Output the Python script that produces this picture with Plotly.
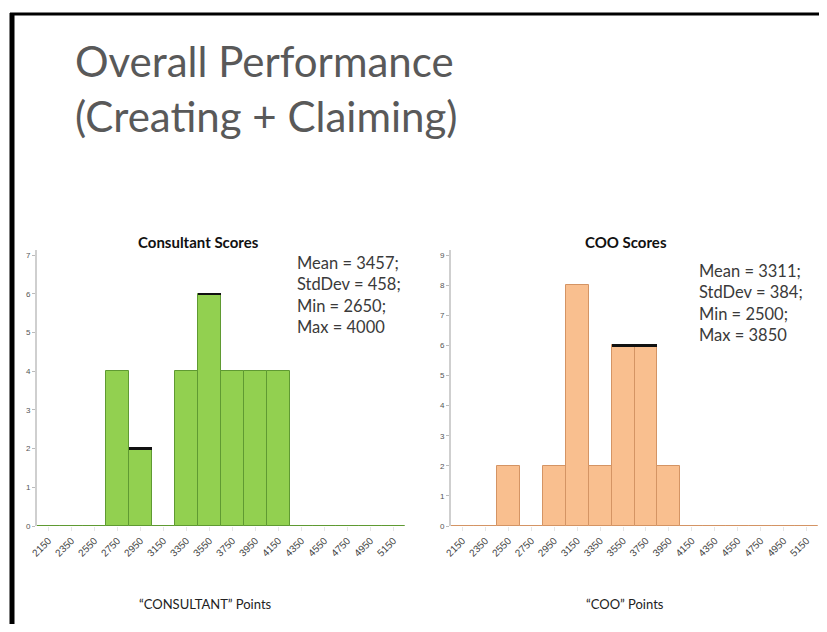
import plotly.graph_objects as go

bins = ["2150", "2350", "2550", "2750", "2950", "3150", "3350", "3550",
        "3750", "3950", "4150", "4350", "4550", "4750", "4950", "5150"]
consultant_counts = [0, 0, 0, 4, 2, 0, 4, 6, 4, 4, 4, 0, 0, 0, 0, 0]
coo_counts = [0, 0, 2, 0, 2, 8, 2, 6, 6, 2, 0, 0, 0, 0, 0, 0]
consultant_marked = ["2950", "3550"]
coo_marked = ["3550", "3750"]
consultant_stats = ["Mean = 3457;", "StdDev = 458;", "Min = 2650;", "Max = 4000"]
coo_stats = ["Mean = 3311;", "StdDev = 384;", "Min = 2500;", "Max = 3850"]

# page body has an 8px margin, so the figure is 16px smaller than the window
OFF = 8
W, H = 827 - 2 * OFF, 632 - 2 * OFF
def px(x):
    return min(max((x - OFF) / W, 0), 1)
def py(y):
    return min(max((H - (y - OFF)) / H, 0), 1)

fig = go.Figure()
fig.add_trace(go.Bar(x=bins, y=consultant_counts, xaxis="x", yaxis="y",
                     marker=dict(color="#92d050", line=dict(color="#5f9a32", width=1)),
                     showlegend=False, hoverinfo="skip"))
fig.add_trace(go.Bar(x=bins, y=coo_counts, xaxis="x2", yaxis="y2",
                     marker=dict(color="#f9bf8f", line=dict(color="#d49464", width=1)),
                     showlegend=False, hoverinfo="skip"))
# black top edges on marked bins
cm = {b: c for b, c in zip(bins, consultant_counts)}
om = {b: c for b, c in zip(bins, coo_counts)}
fig.add_trace(go.Bar(x=consultant_marked, y=[0.06] * len(consultant_marked),
                     base=[cm[b] - 0.03 for b in consultant_marked], xaxis="x", yaxis="y",
                     marker=dict(color="#111111", line=dict(width=0)), showlegend=False,
                     hoverinfo="skip"))
fig.add_trace(go.Bar(x=coo_marked, y=[0.08] * len(coo_marked),
                     base=[om[b] - 0.04 for b in coo_marked], xaxis="x2", yaxis="y2",
                     marker=dict(color="#111111", line=dict(width=0)), showlegend=False,
                     hoverinfo="skip"))

xcommon = dict(type="category", categoryorder="array", categoryarray=bins,
               tickangle=-45, tickfont=dict(family="Liberation Sans", size=10, color="#444444"),
               showgrid=False, showline=False, ticks="outside", ticklen=4,
               tickcolor="#e6e6e6", zeroline=False, automargin=False)
ycommon = dict(showgrid=False, showline=True, linecolor="#cfcfcf", linewidth=2,
               ticks="outside", ticklen=3, tickcolor="#bbbbbb",
               tickfont=dict(family="Liberation Sans", size=8, color="#555555"),
               zeroline=False, dtick=1, automargin=False)

fig.update_layout(
    width=W, height=H, margin=dict(l=0, r=0, t=0, b=0, pad=0), autosize=False,
    paper_bgcolor="white", plot_bgcolor="white",
    barmode="overlay", bargap=0,
    xaxis=dict(domain=[px(37), px(405)], anchor="y", **xcommon),
    yaxis=dict(domain=[py(526), py(250)], anchor="x", range=[0, 7.13], **ycommon),
    xaxis2=dict(domain=[px(451), px(818)], anchor="y2", **xcommon),
    yaxis2=dict(domain=[py(526), py(250)], anchor="x2", range=[0, 9.17], **ycommon),
)

def note(text, x, y, size, xanchor="center", yanchor="middle", family="Lato",
         color="#222222", align="center"):
    return dict(text=text, x=px(x), y=py(y), xref="paper", yref="paper",
                xanchor=xanchor, yanchor=yanchor, align=align, showarrow=False,
                font=dict(family=family, size=size, color=color))

ann = [
    note("Overall Performance<br>(Creating + Claiming)", 73, 34, 42, xanchor="left",
         yanchor="top", color="#595959", align="left"),
    note("<b>Consultant Scores</b>", 198, 242, 15, color="#111111"),
    note("<b>COO Scores</b>", 626, 242, 15, color="#111111"),
    note("<br>".join(consultant_stats), 295, 251, 16.5, xanchor="left", yanchor="top",
         color="#3a3a3a", align="left"),
    note("<br>".join(coo_stats), 697, 259, 16.5, xanchor="left", yanchor="top",
         color="#3a3a3a", align="left"),
    note("\u201cCONSULTANT\u201d Points", 205, 604, 13),
    note("\u201cCOO\u201d Points", 625, 604, 13),
]
fig.update_layout(annotations=ann)

# slide frame (left and top edges)
fig.add_shape(type="line", xref="paper", yref="paper", x0=px(12), x1=px(12), y0=py(13), y1=0,
              line=dict(color="black", width=5))
fig.add_shape(type="line", xref="paper", yref="paper", x0=px(10), x1=1, y0=py(14), y1=py(14),
              line=dict(color="black", width=3))

fig.write_html("out.html")
